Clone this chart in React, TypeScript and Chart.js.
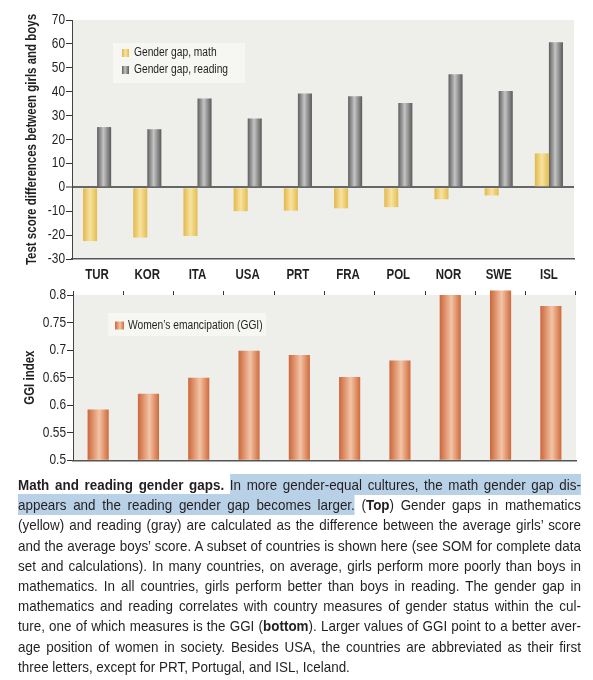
import React, { useEffect, useRef } from 'react';
import { Chart, registerables } from 'chart.js';

Chart.register(...registerables);

// ---------- DATA ----------
const countries = ['TUR', 'KOR', 'ITA', 'USA', 'PRT', 'FRA', 'POL', 'NOR', 'SWE', 'ISL'];
const mathGap = [-22.5, -21, -20.4, -10, -9.8, -8.8, -8.3, -5, -3.4, 14.2];
const readingGap = [25.2, 24.3, 37.2, 28.8, 39.2, 38.1, 35.3, 47.3, 40.3, 60.7];
const ggiValues = [0.592, 0.621, 0.65, 0.699, 0.691, 0.651, 0.681, 0.8, 0.808, 0.78];
const gapLabels = ['Gender gap, math', 'Gender gap, reading'];
const ggiLabel = 'Women\u2019s emancipation (GGI)';
const gapAxisTitle = 'Test score differences between girls and boys';
const ggiAxisTitle = 'GGI index';
const ggiBase = 0.5;

// ---------- STYLE ----------
const FONT = '"Liberation Sans", Arial, sans-serif';
const NARROW = 0.82;
const TEXT = '#231f20';
const PLOT_BG = '#eeeeea';
const LEGEND_BG = '#f6f6f3';

type Stops = [number, string][];
const GRAY: Stops = [[0, '#5e5e5e'], [0.45, '#c4c4c4'], [1, '#595959']];
const YELLOW: Stops = [[0, '#e2b84a'], [0.5, '#f7e3a0'], [1, '#e4bc4f']];
const ORANGE: Stops = [[0, '#cc663a'], [0.55, '#f3c4a6'], [1, '#d06a3b']];

Chart.defaults.font.family = FONT;
Chart.defaults.color = TEXT;

function makeGradient(c: CanvasRenderingContext2D, x0: number, x1: number, stops: Stops) {
  const g = c.createLinearGradient(x0, 0, x1, 0);
  stops.forEach(([o, col]) => g.addColorStop(o, col));
  return g;
}

function barFill(stops: Stops, pct: number, fallback: string) {
  return (ctx: any) => {
    const chart = ctx.chart;
    const xs = chart.scales && chart.scales.x;
    if (ctx.type !== 'data' || !chart.chartArea || !xs) return fallback;
    const n = chart.data.datasets.length;
    const catW = xs.width / chart.data.labels.length;
    const barW = (catW * pct) / n;
    const cx = xs.getPixelForValue(ctx.dataIndex) + (ctx.datasetIndex - (n - 1) / 2) * barW;
    return makeGradient(chart.ctx, cx - barW / 2, cx + barW / 2, stops);
  };
}

// condensed lettering (Arial-metric font drawn at narrow width)
const narrowText = {
  id: 'narrowText',
  beforeInit(chart: any) {
    const c = chart.ctx;
    if (c.__narrow) return;
    c.__narrow = true;
    const orig = c.fillText.bind(c);
    c.fillText = (t: string, x: number, y: number, mw?: number) => {
      c.save();
      c.translate(x, y);
      c.scale(NARROW, 1);
      if (mw === undefined || mw === null) orig(t, 0, 0);
      else orig(t, 0, 0, mw / NARROW);
      c.restore();
    };
  },
};

const plotBg = {
  id: 'plotBg',
  beforeDraw(chart: any) {
    const { ctx, chartArea: a } = chart;
    ctx.save();
    ctx.fillStyle = PLOT_BG;
    ctx.fillRect(a.left, a.top, a.right - a.left, a.bottom - a.top);
    ctx.restore();
  },
};

type LegendRow = { label: string; stops: Stops; dy: number };
function boxLegend(id: string, box: { dx: number; dy: number; w: number; h: number }, rows: LegendRow[], sw: { dx: number; w: number; h: number }, textDx: number) {
  return {
    id,
    afterDraw(chart: any) {
      const { ctx, chartArea: a } = chart;
      ctx.save();
      ctx.fillStyle = LEGEND_BG;
      ctx.fillRect(a.left + box.dx, a.top + box.dy, box.w, box.h);
      ctx.font = `12.5px ${FONT}`;
      ctx.textBaseline = 'middle';
      ctx.textAlign = 'left';
      rows.forEach((r) => {
        const x = a.left + sw.dx;
        const y = a.top + r.dy;
        ctx.fillStyle = makeGradient(ctx, x, x + sw.w, r.stops);
        ctx.fillRect(x, y - sw.h / 2, sw.w, sw.h);
        ctx.fillStyle = TEXT;
        ctx.fillText(r.label, a.left + textDx, y);
      });
      ctx.restore();
    },
  };
}

function GapChart() {
  const ref = useRef<HTMLCanvasElement>(null);
  useEffect(() => {
    if (!ref.current) return;
    const pct = 0.56;
    const chart = new Chart(ref.current, {
      type: 'bar',
      data: {
        labels: countries,
        datasets: [
          { label: gapLabels[0], data: mathGap, backgroundColor: barFill(YELLOW, pct, '#ecc865'), borderWidth: 0, categoryPercentage: pct, barPercentage: 1 },
          { label: gapLabels[1], data: readingGap, backgroundColor: barFill(GRAY, pct, '#8c8c8c'), borderWidth: 0, categoryPercentage: pct, barPercentage: 1 },
        ],
      },
      options: {
        animation: false,
        responsive: false,
        maintainAspectRatio: false,
        events: [],
        layout: { padding: { left: 0, right: 19, top: 20, bottom: 0 } },
        plugins: { legend: { display: false }, tooltip: { enabled: false } },
        scales: {
          x: {
            offset: true,
            grid: { display: false, drawTicks: false },
            border: { display: true, color: '#555', width: 1.5 },
            ticks: { font: { size: 14, weight: 'bold' }, color: TEXT, padding: 8, maxRotation: 0, autoSkip: false },
            afterFit(s: any) { s.height = 29; },
          },
          y: {
            min: -30,
            max: 70,
            ticks: { stepSize: 10, font: { size: 14.5 }, color: TEXT, padding: 1 },
            grid: {
              color: (c: any) => (c.tick && c.tick.value === 0 ? '#666' : 'rgba(0,0,0,0)'),
              lineWidth: (c: any) => (c.tick && c.tick.value === 0 ? 2 : 1),
              tickColor: '#333',
              tickLength: 6,
              tickWidth: 1,
            },
            border: { display: true, color: '#444', width: 1 },
            title: { display: true, text: gapAxisTitle, font: { size: 14, weight: 'bold' }, color: TEXT, padding: { top: 24, bottom: 0 } },
            afterFit(s: any) { s.width = 72; },
          },
        },
      } as any,
      plugins: [
        narrowText,
        plotBg,
        boxLegend('gapLegend', { dx: 41, dy: 23, w: 132, h: 40 }, [
          { label: gapLabels[0], stops: YELLOW, dy: 33 },
          { label: gapLabels[1], stops: GRAY, dy: 50 },
        ], { dx: 50, w: 7, h: 8 }, 62),
      ],
    });
    return () => chart.destroy();
  }, []);
  return <canvas ref={ref} width={593} height={288} style={{ position: 'absolute', left: 0, top: 0, width: 593, height: 288 }} />;
}

function GgiChart() {
  const ref = useRef<HTMLCanvasElement>(null);
  useEffect(() => {
    if (!ref.current) return;
    const pct = 0.42;
    const chart = new Chart(ref.current, {
      type: 'bar',
      data: {
        labels: countries,
        datasets: [
          { label: ggiLabel, data: ggiValues, base: ggiBase, backgroundColor: barFill(ORANGE, pct, '#e08a5c'), borderWidth: 0, categoryPercentage: pct, barPercentage: 1, clip: false },
        ],
      },
      options: {
        animation: false,
        responsive: false,
        maintainAspectRatio: false,
        events: [],
        layout: { padding: { left: 0, right: 17, top: 0, bottom: 0 } },
        plugins: { legend: { display: false }, tooltip: { enabled: false } },
        scales: {
          x: {
            offset: true,
            grid: { display: false, drawTicks: false },
            border: { display: true, color: '#555', width: 1.5 },
            ticks: { display: false },
            afterFit(s: any) { s.height = 9; },
          },
          x2: {
            type: 'category',
            axis: 'x',
            position: 'top',
            labels: countries,
            offset: true,
            grid: { display: true, drawOnChartArea: false, drawTicks: true, tickLength: 4, color: '#333', offset: true },
            ticks: { display: false },
            border: { display: false },
            afterFit(s: any) { s.height = 15; },
          },
          y: {
            min: 0.5,
            max: 0.8,
            ticks: { stepSize: 0.05, font: { size: 14.5 }, color: TEXT, padding: 1, callback: (v: any) => String(+Number(v).toFixed(2)) },
            grid: { drawOnChartArea: false, tickColor: '#333', tickLength: 6, tickWidth: 1 },
            border: { display: true, color: '#444', width: 1 },
            title: { display: true, text: ggiAxisTitle, font: { size: 14, weight: 'bold' }, color: TEXT, padding: { top: 22, bottom: 0 } },
            afterFit(s: any) { s.width = 73; },
          },
        },
      } as any,
      plugins: [
        narrowText,
        plotBg,
        boxLegend('ggiLegend', { dx: 35, dy: 18, w: 158, h: 23 }, [
          { label: ggiLabel, stops: ORANGE, dy: 30.5 },
        ], { dx: 42, w: 9, h: 8 }, 55),
      ],
    });
    return () => chart.destroy();
  }, []);
  return <canvas ref={ref} width={593} height={190} style={{ position: 'absolute', left: 0, top: 280, width: 593, height: 190 }} />;
}

const HL: React.CSSProperties = { background: '#b9d1e7', padding: '2px 0' };
const CAP_SCALE = 0.895;

function Caption() {
  const line: React.CSSProperties = { textAlign: 'justify', textAlignLast: 'justify' as any, whiteSpace: 'nowrap', height: 20.2 };
  const last: React.CSSProperties = { ...line, textAlign: 'left', textAlignLast: 'left' as any };
  return (
    <div style={{ position: 'absolute', left: 18, top: 475, width: 563 / CAP_SCALE, transform: `scaleX(${CAP_SCALE})`, transformOrigin: '0 0', fontFamily: FONT, fontSize: 15, lineHeight: '20.2px', color: TEXT }}>
      <div style={line}><b>Math and reading gender gaps.</b> <span style={HL}>In more gender-equal cultures, the math gender gap dis-</span></div>
      <div style={line}><span style={HL}>appears and the reading gender gap becomes larger.</span> (<b>Top</b>) Gender gaps in mathematics</div>
      <div style={line}>(yellow) and reading (gray) are calculated as the difference between the average girls’ score</div>
      <div style={line}>and the average boys’ score. A subset of countries is shown here (see SOM for complete data</div>
      <div style={line}>set and calculations). In many countries, on average, girls perform more poorly than boys in</div>
      <div style={line}>mathematics. In all countries, girls perform better than boys in reading. The gender gap in</div>
      <div style={line}>mathematics and reading correlates with country measures of gender status within the cul-</div>
      <div style={line}>ture, one of which measures is the GGI (<b>bottom</b>). Larger values of GGI point to a better aver-</div>
      <div style={line}>age position of women in society. Besides USA, the countries are abbreviated as their first</div>
      <div style={last}>three letters, except for PRT, Portugal, and ISL, Iceland.</div>
    </div>
  );
}

export default function App() {
  return (
    <div style={{ position: 'absolute', left: 0, top: 0, width: 593, height: 680, background: '#fff', overflow: 'hidden' }}>
      <GapChart />
      <GgiChart />
      <Caption />
    </div>
  );
}
